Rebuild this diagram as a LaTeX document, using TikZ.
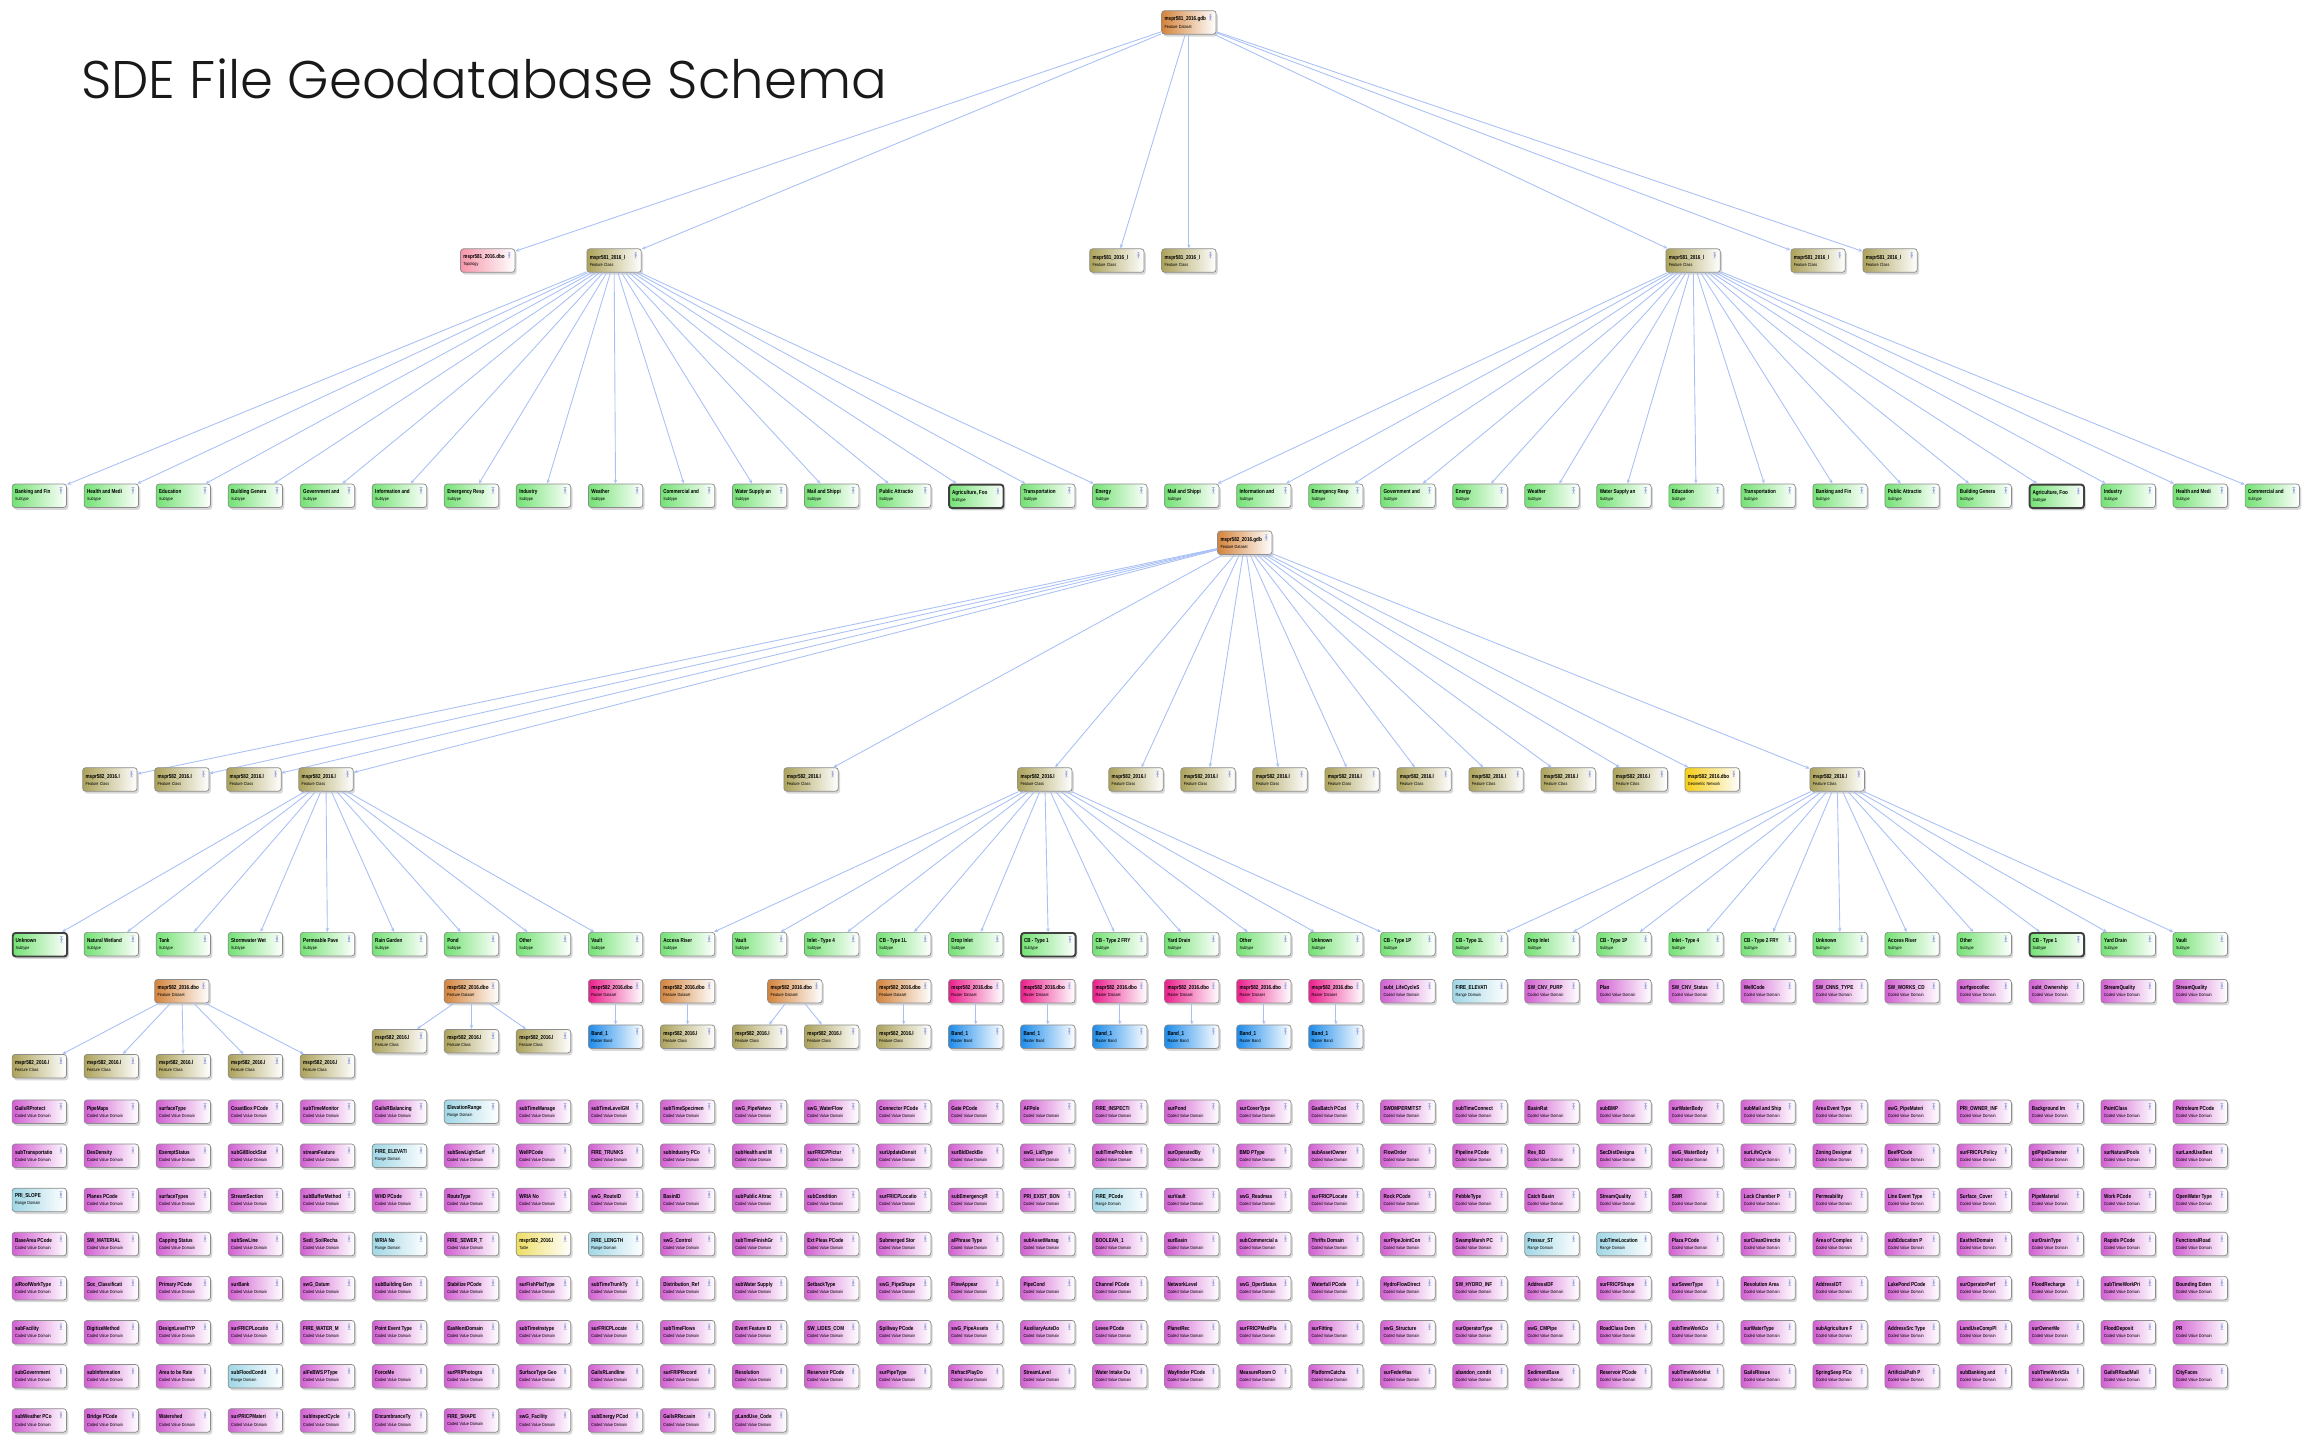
\documentclass[tikz,border=0pt]{standalone}
\usepackage{graphicx}
\usepackage{fontspec}
\setmainfont{Liberation Sans}
\newfontfamily\titlefont{Poppins Light}
\usetikzlibrary{shadows,arrows.meta}
\definecolor{edgec}{RGB}{170,193,245}
\definecolor{iconc}{RGB}{165,175,225}
\definecolor{cFD}{RGB}{212,132,60}
\definecolor{cFC}{RGB}{172,162,90}
\definecolor{cTP}{RGB}{246,150,170}
\definecolor{cSub}{RGB}{115,226,115}
\definecolor{cRD}{RGB}{236,30,140}
\definecolor{cRB}{RGB}{30,140,235}
\definecolor{domc}{RGB}{210,95,210}
\definecolor{domr}{RGB}{160,215,230}
\definecolor{domt}{RGB}{238,222,100}
\definecolor{cGN}{RGB}{245,205,20}
\newcommand\nm[1]{\scalebox{0.8}[1]{\fontsize{3.9}{4}\selectfont\bfseries #1}}
\newcommand\tp[1]{\scalebox{0.85}[1]{\fontsize{3.0}{3.2}\selectfont #1}}
\newcommand\tyCc{Coded Value Domain}
\newcommand\tyCr{Range Domain}
\newcommand\tyCt{Table}
\tikzset{
 box/.style={draw=black!45, line width=0.5pt, rounded corners=2pt, anchor=north west,
   minimum width=37pt, minimum height=16pt, text width=33pt, inner xsep=2pt, inner ysep=1pt,
   align=left, font=\fontsize{3}{4.8}\selectfont, right color=white,
   drop shadow={opacity=0.3, shadow xshift=1.2pt, shadow yshift=-1.6pt},
   path picture={\fill[iconc] ([xshift=-4.6pt,yshift=-2.2pt]path picture bounding box.north east) rectangle ([xshift=-3.1pt,yshift=-6.4pt]path picture bounding box.north east);}},
 fd/.style={left color=cFD},
 fc/.style={left color=cFC},
 tpo/.style={left color=cTP},
 rd/.style={left color=cRD},
 rb/.style={left color=cRB},
 gn/.style={left color=cGN},
 edge/.style={draw=edgec, line width=0.6pt, -{Stealth[length=2.8pt,width=2.3pt]}},
}
% subtype group: #1 prefix, #2 parent, #3 x0, #4 y, #5 list label/selected
\newcommand\subgroup[5]{%
 \foreach \lab/\s [count=\i from 0] in {#5}{%
  \pgfmathsetmacro\lw{\s?1.3:0.5}%
  \pgfmathtruncatemacro\dk{\s?75:45}%
  \node[box,left color=cSub,line width=\lw pt,draw=black!\dk] (#1\i) at ({#3+49*\i},#4) {\nm{\lab}\\\tp{Subtype}};
  \draw[edge] (#2) -- (#1\i);
 }}
% domain row: #1 x0, #2 y, #3 list label/code
\newcommand\domrow[3]{%
 \foreach \lab/\st [count=\i from 0] in {#3}{%
  \node[box,left color=dom\st] (d#2-\i) at ({#1+49*\i},#2) {\nm{\lab}\\\tp{\csname tyC\st\endcsname}};
 }}
\begin{document}
\begin{tikzpicture}[x=1pt,y=-1pt]
\fill[white] (0,0) rectangle (1568,980);
\useasboundingbox (0,0) rectangle (1568,980);

\node[anchor=base west, inner sep=0pt, text=black!90] (title) at (55,67) {\resizebox{548pt}{!}{\titlefont SDE File Geodatabase Schema}};

% ---------- first tree ----------
\node[box,fd] (root) at (790,7) {\nm{mspr581\_2016.gdb}\\\tp{Feature Dataset}};
\node[box,tpo] (r1a) at (313,169) {\nm{mspr581\_2016.dbo}\\\tp{Topology}};
\node[box,fc] (r1b) at (399,169) {\nm{mspr581\_2016\_l}\\\tp{Feature Class}};
\node[box,fc] (r1c) at (741,169) {\nm{mspr581\_2016\_l}\\\tp{Feature Class}};
\node[box,fc] (r1d) at (790,169) {\nm{mspr581\_2016\_l}\\\tp{Feature Class}};
\node[box,fc] (r1e) at (1133,169) {\nm{mspr581\_2016\_l}\\\tp{Feature Class}};
\node[box,fc] (r1f) at (1218,169) {\nm{mspr581\_2016\_l}\\\tp{Feature Class}};
\node[box,fc] (r1g) at (1267,169) {\nm{mspr581\_2016\_l}\\\tp{Feature Class}};
\foreach \c in {r1a,r1b,r1c,r1d,r1e,r1f,r1g} \draw[edge] (root) -- (\c);

\subgroup{ga}{r1b}{8}{329}{Banking and Fin/0, Health and Medi/0, Education/0, Building Genera/0, Government and/0, Information and/0, Emergency Resp/0, Industry/0, Weather/0, Commercial and/0, Water Supply an/0, Mail and Shippi/0, Public Attractio/0, Agriculture{,} Foo/1, Transportation/0, Energy/0}
\subgroup{gb}{r1e}{792}{329}{Mail and Shippi/0, Information and/0, Emergency Resp/0, Government and/0, Energy/0, Weather/0, Water Supply an/0, Education/0, Transportation/0, Banking and Fin/0, Public Attractio/0, Building Genera/0, Agriculture{,} Foo/1, Industry/0, Health and Medi/0, Commercial and/0}

% ---------- second tree ----------
\node[box,fd] (root2) at (828,361) {\nm{mspr582\_2016.gdb}\\\tp{Feature Dataset}};
\foreach \x [count=\i] in {56,105,154,203,533,692,754,803,852,901,950,999,1048,1097,1231}{%
  \node[box,fc] (r4\i) at (\x,522) {\nm{mspr582\_2016.l}\\\tp{Feature Class}};
  \draw[edge] (root2) -- (r4\i);}
\node[box,gn] (r4gn) at (1146,522) {\nm{mspr582\_2016.dbo}\\\tp{Geometric Network}};
\draw[edge] (root2) -- (r4gn);

\subgroup{sa}{r44}{8}{634}{Unknown/1, Natural Wetland/0, Tank/0, Stormwater Wet/0, Permeable Pave/0, Rain Garden/0, Pond/0, Other/0, Vault/0}
\subgroup{sb}{r46}{449}{634}{Access Riser/0, Vault/0, Inlet - Type 4/0, CB - Type 1L/0, Drop Inlet/0, CB - Type 1/1, CB - Type 2 FRY/0, Yard Drain/0, Other/0, Unknown/0, CB - Type 1P/0}
\subgroup{sc}{r415}{988}{634}{CB - Type 1L/0, Drop Inlet/0, CB - Type 1P/0, Inlet - Type 4/0, CB - Type 2 FRY/0, Unknown/0, Access Riser/0, Other/0, CB - Type 1/1, Yard Drain/0, Vault/0}

% ---------- datasets row ----------
\node[box,fd] (f1) at (105,666) {\nm{mspr582\_2016.dbo}\\\tp{Feature Dataset}};
\node[box,fd] (f2) at (302,666) {\nm{mspr582\_2016.dbo}\\\tp{Feature Dataset}};
\node[box,rd] (rd1) at (400,666) {\nm{mspr582\_2016.dbo}\\\tp{Raster Dataset}};
\node[box,fd] (f3) at (449,666) {\nm{mspr582\_2016.dbo}\\\tp{Feature Dataset}};
\node[box,fd] (f4) at (522,666) {\nm{mspr582\_2016.dbo}\\\tp{Feature Dataset}};
\node[box,fd] (f5) at (596,666) {\nm{mspr582\_2016.dbo}\\\tp{Feature Dataset}};
\foreach \x [count=\i from 2] in {645,694,743,792,841,890}
  \node[box,rd] (rd\i) at (\x,666) {\nm{mspr582\_2016.dbo}\\\tp{Raster Dataset}};

\foreach \x [count=\i] in {8,57,106,155,204}{%
  \node[box,fc] (c1\i) at (\x,717) {\nm{mspr582\_2016.l}\\\tp{Feature Class}};
  \draw[edge] (f1) -- (c1\i);}
\foreach \x [count=\i] in {253,302,351}{%
  \node[box,fc] (c2\i) at (\x,700) {\nm{mspr582\_2016.l}\\\tp{Feature Class}};
  \draw[edge] (f2) -- (c2\i);}
\node[box,rb] (b1) at (400,697) {\nm{Band\_1}\\\tp{Raster Band}};
\draw[edge] (rd1) -- (b1);
\node[box,fc] (c3) at (449,697) {\nm{mspr582\_2016.l}\\\tp{Feature Class}};
\draw[edge] (f3) -- (c3);
\node[box,fc] (c4a) at (498,697) {\nm{mspr582\_2016.l}\\\tp{Feature Class}};
\node[box,fc] (c4b) at (547,697) {\nm{mspr582\_2016.l}\\\tp{Feature Class}};
\draw[edge] (f4) -- (c4a);
\draw[edge] (f4) -- (c4b);
\node[box,fc] (c5) at (596,697) {\nm{mspr582\_2016.l}\\\tp{Feature Class}};
\draw[edge] (f5) -- (c5);
\foreach \x [count=\i from 2] in {645,694,743,792,841,890}{%
  \node[box,rb] (b\i) at (\x,697) {\nm{Band\_1}\\\tp{Raster Band}};
  \draw[edge] (rd\i) -- (b\i);}

% ---------- domains ----------
\domrow{939}{666}{subt\_LifeCycleS/c, FIRE\_ELEVATI/r, SW\_CNV\_PURP/c, Plan/c, SW\_CNV\_Status/c, WellCode/c, SW\_CNNS\_TYPE/c, SW\_WORKS\_CD/c, surfgeocollec/c, subt\_Ownership/c, StreamQuality/c, StreamQuality/c}

\domrow{8}{748}{GailsRProtect/c, PipeMaps/c, surfaceType/c, CoastBox PCode/c, subTimeMonitor/c, GailsRBalancing/c, ElevationRange/r, subTimeManage/c, subTimeLevelGM/c, subTimeSpecimen/c, swG\_PipeNetwo/c, swG\_WaterFlow/c, Connector PCode/c, Gate PCode/c, AFPole/c, FIRE\_INSPECTI/c, surPond/c, surCoverType/c, GasBatch PCod/c, SWDMPERMITST/c, subTimeConnect/c, BasinRat/c, subBMP/c, surWaterBody/c, subMail and Ship/c, Area Event Type/c, swG\_PipeMateri/c, PRI\_OWNER\_INF/c, Background Im/c, PaintClass/c, Petroleum PCode/c}

\domrow{8}{778}{subTransportatio/c, DesDensity/c, ExemptStatus/c, subGilBlockStat/c, streamFeature/c, FIRE\_ELEVATI/r, subSewLightSurf/c, WellPCode/c, FIRE\_TRUNKS/c, subIndustry PCo/c, subHealth and M/c, surFRICPPictur/c, surUpdateDensit/c, surBldDeckBe/c, swG\_LidType/c, subTimeProblem/c, surOperatedBy/c, BMD PType/c, subAssetOwner/c, FlowOrder/c, Pipeline PCode/c, Res\_BD/c, SecDistDesigna/c, swG\_WaterBody/c, surLifeCycle/c, Zoning Designat/c, BeefPCode/c, surFRICPLPolicy/c, gdPipeDiameter/c, surNaturalPools/c, surLandUseBest/c}

\domrow{8}{808}{PRI\_SLOPE/r, Planes PCode/c, surfaceTypes/c, StreamSection/c, subBufferMethod/c, WHD PCode/c, RouteType/c, WRIA No/c, swG\_RouteID/c, BasinID/c, subPublic Attrac/c, subCondition/c, surFRICPLocatio/c, subEmergencyR/c, PRI\_EXIST\_BON/c, FIRE\_PCode/r, surVault/c, swG\_Readmas/c, surFRICPLocate/c, Rock PCode/c, PebbleType/c, Catch Basin/c, StreamQuality/c, SWR/c, Lock Chamber P/c, Permeability/c, Line Event Type/c, Surface\_Cover/c, PipeMaterial/c, Work PCode/c, OpenWater Type/c}

\domrow{8}{838}{BaseArea PCode/c, SW\_MATERIAL/c, Capping Status/c, subSewLine/c, Sedi\_SoilRecha/c, WRIA No/r, FIRE\_SEWER\_T/c, mspr582\_2016.l/t, FIRE\_LENGTH/r, swG\_Control/c, subTimeFinishGr/c, Ext Pleas PCode/c, Submerged Stor/c, alPhrase Type/c, subAssetManag/c, BOOLEAN\_1/c, surBasin/c, subCommercial a/c, Thrifts Domain/c, surPipeJointCon/c, SwampMarsh PC/c, Pressur\_ST/r, subTimeLocation/r, Plaza PCode/c, surCleanDirectio/c, Area of Complex/c, subEducation P/c, EasthetDomain/c, surDrainType/c, Rapids PCode/c, FunctionalRoad/c}

\domrow{8}{868}{alRoofWorkType/c, Soc\_Classificati/c, Primary PCode/c, surBank/c, swG\_Datum/c, subBuilding Gen/c, Stabilize PCode/c, surFishPlatType/c, subTimeTrunkTy/c, Distribution\_Ref/c, subWater Supply/c, SetbackType/c, swG\_PipeShape/c, FlowAppear/c, PipeCond/c, Channel PCode/c, NetworkLevel/c, swG\_OperStatus/c, Waterfall PCode/c, HydroFlowDirect/c, SW\_HYDRO\_INF/c, AddressIDF/c, surFRICPShape/c, surSewerType/c, Resolution Area/c, AddressIDT/c, LakePond PCode/c, surOperatorPerf/c, FloodRecharge/c, subTimeWorkPri/c, Bounding Exten/c}

\domrow{8}{898}{subFacility/c, DigitizeMethod/c, DesignLevelTYP/c, surFRICPLocatio/c, FIRE\_WATER\_M/c, Point Event Type/c, EasMentDomain/c, subTimeInstype/c, surFRICPLocate/c, subTimeFlows/c, Event Feature ID/c, SW\_LIDES\_COM/c, Spillway PCode/c, swG\_PipeAssets/c, AuxiliaryAuteDo/c, Levee PCode/c, PlanetRec/c, surFRICPMedPla/c, surFitting/c, swG\_Structure/c, surOperatorType/c, swG\_CMPipe/c, RoadClass Dom/c, subTimeWorkCo/c, surWaterType/c, subAgriculture F/c, AddressSrc Type/c, LandUseCompPl/c, surOwnerMe/c, FloodDeposit/c, PR/c}

\domrow{8}{928}{subGovernment/c, subInformation/c, Area to be Rate/c, subFloodCondit/r, alFeBWS PType/c, ForceMe/c, surPRIPhotogra/c, SurfaceType Geo/c, GailsRLandline/c, surFRIPRecord/c, Resolution/c, Reservoir PCode/c, surPipeType/c, RefractPlayDo/c, StreamLevel/c, Water Intake Ou/c, Wayfinder PCode/c, MeasureRoom O/c, PlatformCatcha/c, surFederHas/c, abandon\_condit/c, SedimentBase/c, Reservoir PCode/c, subTimeWorkHist/c, GailsRIssue/c, SpringSeep PCo/c, ArtificialPath P/c, subBanking and/c, subTimeWorkSta/c, GailsRRoadMall/c, CityFaces/c}

\domrow{8}{958}{subWeather PCo/c, Bridge PCode/c, Watershed/c, surPRICPMateri/c, subInspectCycle/c, EncumbranceTy/c, FIRE\_SHAPE/c, swG\_Facility/c, subEnergy PCod/c, GailsRRecasin/c, pLandUse\_Code/c}
\end{tikzpicture}
\end{document}
